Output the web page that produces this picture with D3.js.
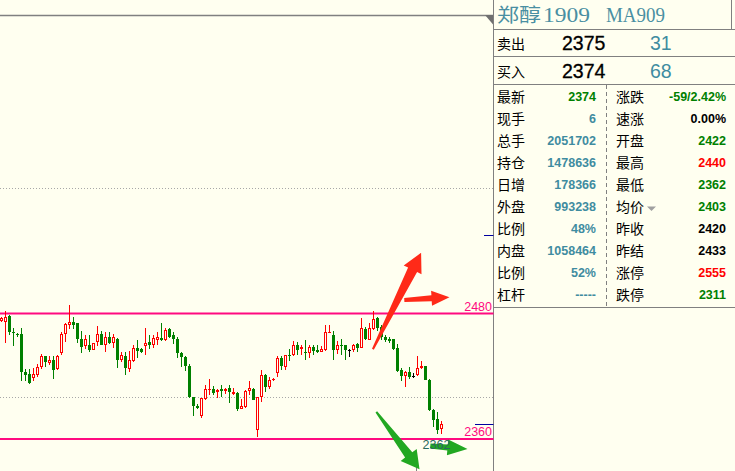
<!DOCTYPE html>
<html><head><meta charset="utf-8">
<script src="https://cdn.jsdelivr.net/npm/d3@7/dist/d3.min.js"></script>
<style>html,body{margin:0;padding:0;background:#FFFFF0;}svg{display:block;}</style>
</head><body>
<svg id="c" width="735" height="471"></svg>
<script>
// ---------- data ----------
const opens  = [2473,2472,2478,2462,2460,2460,2424,2422,2418,2421,2429,2439,2433,2436,2427,2442,2460,2469,2472,2471,2456,2449,2450,2445,2453,2460,2450,2458,2452,2456,2436,2439,2427,2435,2447,2446,2449,2453,2450,2455,2457,2455,2465,2459,2456,2442,2438,2430,2400,2392,2382,2398,2407,2408,2405,2408,2406,2409,2403,2404,2389,2391,2406,2408,2369,2400,2421,2410,2416,2423,2437,2429,2440,2440,2450,2446,2443,2442,2448,2445,2443,2445,2461,2459,2445,2450,2450,2445,2445,2451,2447,2465,2455,2465,2476,2467,2458,2456,2456,2447,2426,2420,2424,2420,2421,2428,2430,2416,2388,2379,2370];
const highs  = [2477,2482,2479,2466,2461,2466,2427,2427,2428,2432,2441,2439,2439,2439,2440,2462,2471,2488,2477,2471,2463,2459,2459,2452,2468,2463,2462,2462,2460,2457,2443,2443,2444,2450,2455,2447,2466,2459,2459,2462,2471,2466,2466,2462,2458,2443,2439,2432,2400,2393,2399,2412,2417,2411,2408,2412,2409,2412,2409,2405,2398,2407,2415,2409,2400,2426,2422,2419,2418,2439,2439,2440,2446,2454,2453,2450,2455,2450,2450,2450,2449,2469,2469,2463,2454,2456,2450,2446,2451,2452,2476,2467,2471,2482,2477,2469,2459,2458,2456,2451,2428,2425,2429,2423,2439,2435,2430,2417,2389,2386,2377];
const lows   = [2472,2452,2459,2449,2458,2415,2415,2413,2415,2419,2427,2429,2431,2417,2426,2440,2453,2465,2465,2452,2442,2446,2443,2445,2449,2450,2443,2451,2447,2428,2434,2421,2424,2434,2437,2442,2440,2446,2447,2450,2454,2454,2457,2451,2437,2429,2425,2399,2382,2389,2380,2397,2402,2402,2399,2400,2403,2394,2402,2387,2389,2390,2402,2397,2362,2395,2405,2408,2415,2419,2426,2426,2435,2439,2440,2440,2436,2437,2440,2442,2443,2444,2461,2436,2441,2440,2436,2438,2443,2443,2447,2455,2455,2464,2463,2455,2453,2452,2445,2424,2415,2410,2417,2418,2420,2427,2416,2387,2371,2365,2365];
const closes = [2476,2477,2462,2461,2459,2424,2421,2414,2422,2429,2439,2434,2436,2426,2439,2460,2470,2472,2469,2456,2448,2456,2445,2452,2460,2450,2458,2452,2458,2436,2440,2428,2436,2447,2444,2443,2452,2450,2457,2458,2455,2464,2458,2456,2442,2438,2430,2400,2392,2390,2399,2408,2408,2404,2407,2406,2408,2405,2405,2389,2392,2406,2409,2397,2400,2421,2410,2416,2417,2437,2430,2440,2439,2450,2445,2448,2442,2448,2444,2443,2446,2462,2462,2445,2450,2449,2445,2445,2450,2447,2466,2456,2466,2475,2466,2458,2455,2454,2446,2425,2420,2424,2419,2420,2428,2430,2416,2388,2378,2369,2374];

const levelLines  = [2480, 2360];          // pink support / resistance
const gridPrices  = [2400, 2600];          // dotted grid
const markPrices  = [2555, 2374];          // blue ticks: limit-up, last
const lowMark     = {index: 109, value: 2362};

const titleName = "郑醇", titleCode = "1909", titleSym = "MA909";
const quoteLabels = ["卖出", "买入"];
const quotePrices = ["2375", "2374"];
const quoteVols   = ["31", "68"];

const leftLabels  = ["最新","现手","总手","持仓","日增","外盘","比例","内盘","比例","杠杆"];
const leftValues  = ["2374","6","2051702","1478636","178366","993238","48%","1058464","52%","-----"];
const rightLabels = ["涨跌","速涨","开盘","最高","最低","均价","昨收","昨结","涨停","跌停"];
const rightValues = ["-59/2.42%","0.00%","2422","2440","2362","2403","2420","2433","2555","2311"];
const settlePrice = 2433;

// arrows in (candle index, price) space
const arrows = [
  {from:[92.85,2445.8], to:[104.9,2538], kind:"up"},
  {from:[100.7,2493.0], to:[112.0,2495.5], kind:"up2"},
  {from:[93.7,2386.0],  to:[104.5,2331.0], kind:"dn"},
  {from:[107.2,2353.3], to:[116.5,2350.5], kind:"dn2"}
];

// ---------- drawing ----------
const svg = d3.select("#c");
const BG = "#FFFFF0", GRAY = "#808080", TEAL = "#3F8CA0";
const RED = "#FF0000", GREEN = "#008000", PINK = "#FF0A80";
const chartRight = 493.5;

svg.append("rect").attr("width",735).attr("height",471).attr("fill",BG);

const x = d3.scaleLinear().domain([0, opens.length-1]).range([1.5, 1.5 + 4*(opens.length-1)]);
const y = d3.scaleLinear().domain([2360, 2480]).range([439, 313.5]);

const g = svg.append("g");

// dotted grid
g.selectAll(".grid").data(gridPrices).enter().append("line")
  .attr("x1",0).attr("x2",chartRight)
  .attr("y1",d=>Math.round(y(d))+0.5).attr("y2",d=>Math.round(y(d))+0.5)
  .attr("stroke","#A8A8A8").attr("stroke-dasharray","1,2");

// top line & triangle
g.append("line").attr("x1",0).attr("x2",chartRight).attr("y1",15.5).attr("y2",15.5)
  .attr("stroke",GRAY).attr("stroke-width",1.5);
g.append("path").attr("d",`M485,15 L${chartRight},15 L${chartRight},25 Z`).attr("fill","#707070");

// vertical separator
g.append("line").attr("x1",chartRight).attr("x2",chartRight).attr("y1",0).attr("y2",471)
  .attr("stroke",GRAY);

// pink level lines
g.selectAll(".lvl").data(levelLines).enter().append("line")
  .attr("x1",0).attr("x2",chartRight)
  .attr("y1",d=>y(d)).attr("y2",d=>y(d))
  .attr("stroke",PINK).attr("stroke-width",2);
g.selectAll(".lvlt").data(levelLines).enter().append("text")
  .attr("x",492).attr("y",d=>y(d)-3).attr("text-anchor","end")
  .attr("font-family","Liberation Sans, Arial, sans-serif").attr("font-size",12.5)
  .attr("fill",PINK).text(d=>d);

// blue marker ticks
g.selectAll(".mk").data(markPrices).enter().append("line")
  .attr("x1",(d,i)=> i===0 ? 484 : 475).attr("x2",chartRight)
  .attr("y1",d=>Math.round(y(d))+0.5).attr("y2",d=>Math.round(y(d))+0.5)
  .attr("stroke","#0000A0");

// bottom time tick
g.append("line").attr("x1",Math.round(x(103.6))+0.5).attr("x2",Math.round(x(103.6))+0.5)
  .attr("y1",463).attr("y2",471).attr("stroke",GRAY);

// candles
const cg = g.append("g").attr("shape-rendering","crispEdges");
opens.forEach((o,i)=>{
  const h = highs[i], l = lows[i], c = closes[i];
  const cx = Math.round(x(i)-0.5)+0.5;
  const yo = Math.round(y(o)), yc = Math.round(y(c)), yh = Math.round(y(h)), yl = Math.round(y(l));
  if (c > o) {
    const top = yc, bot = yo;
    if (yh < top) cg.append("line").attr("x1",cx).attr("x2",cx).attr("y1",yh).attr("y2",top).attr("stroke",RED);
    if (yl > bot) cg.append("line").attr("x1",cx).attr("x2",cx).attr("y1",bot).attr("y2",yl).attr("stroke",RED);
    if (bot - top >= 2) {
      cg.append("rect").attr("x",cx-1).attr("y",top+0.5).attr("width",2).attr("height",bot-top-1)
        .attr("fill",BG).attr("stroke",RED);
    } else {
      cg.append("rect").attr("x",cx-1.5).attr("y",top).attr("width",3).attr("height",Math.max(1,bot-top)).attr("fill",RED);
    }
  } else if (c < o) {
    cg.append("line").attr("x1",cx).attr("x2",cx).attr("y1",yh).attr("y2",yl).attr("stroke",GREEN);
    cg.append("rect").attr("x",cx-1.5).attr("y",yo).attr("width",3).attr("height",Math.max(1,yc-yo)).attr("fill",GREEN);
  } else {
    cg.append("line").attr("x1",cx).attr("x2",cx).attr("y1",yh).attr("y2",yl).attr("stroke","#000");
    cg.append("rect").attr("x",cx-1.5).attr("y",yo).attr("width",3).attr("height",1).attr("fill","#000");
  }
});

// arrows
const arrowStyle = {
  up:  {fill:"#FF2A18", wt:1,   ws:5,   wh:10, hl:19},
  up2: {fill:"#FF2A18", wt:2,   ws:3,   wh:7.5,hl:18},
  dn:  {fill:"#22A822", wt:1,   ws:4.5, wh:10, hl:18},
  dn2: {fill:"#22A822", wt:2.5, ws:3,   wh:8,  hl:20}
};
arrows.forEach(a=>{
  const s = arrowStyle[a.kind];
  const T = [x(a.from[0]), y(a.from[1])], P = [x(a.to[0]), y(a.to[1])];
  const dx = P[0]-T[0], dy = P[1]-T[1], len = Math.hypot(dx,dy);
  const u = [dx/len, dy/len], n = [-u[1], u[0]];
  const B = [P[0]-u[0]*s.hl, P[1]-u[1]*s.hl];
  const pt = (p,k)=>[p[0]+n[0]*k, p[1]+n[1]*k];
  const pts = [pt(T,s.wt), pt(B,s.ws), pt(B,s.wh), P, pt(B,-s.wh), pt(B,-s.ws), pt(T,-s.wt)];
  g.append("path").attr("d","M"+pts.map(p=>p[0].toFixed(1)+","+p[1].toFixed(1)).join("L")+"Z")
    .attr("fill",s.fill);
});

// low label (drawn above arrows)
g.append("text").attr("x",x(lowMark.index)-1).attr("y",y(lowMark.value)+12)
  .attr("text-anchor","middle").attr("font-family","Liberation Sans, Arial, sans-serif")
  .attr("font-size",12.5).attr("fill","#2A6A5E").text(lowMark.value);

// ---------- right panel ----------
const p = svg.append("g");
const PL = 494;
[29.5, 56.5, 84.5, 307.5].forEach(v=>{
  p.append("line").attr("x1",PL).attr("x2",735).attr("y1",v).attr("y2",v).attr("stroke",GRAY);
});
p.append("line").attr("x1",731.5).attr("x2",731.5).attr("y1",0).attr("y2",29).attr("stroke",GRAY);
p.append("line").attr("x1",606.5).attr("x2",606.5).attr("y1",85).attr("y2",307)
  .attr("stroke",GRAY).attr("stroke-dasharray","4,3");

// title
p.append("text").attr("x",497).attr("y",21.5).attr("font-family","Noto Sans CJK SC")
  .attr("font-size",19).attr("fill","#4A8FA2")
  .attr("textLength",44).attr("lengthAdjust","spacingAndGlyphs").text(titleName);
p.append("text").attr("x",543).attr("y",22).attr("font-family","Liberation Serif, serif")
  .attr("font-size",22).attr("fill","#4A8FA2").attr("textLength",47).attr("lengthAdjust","spacingAndGlyphs").text(titleCode);
p.append("text").attr("x",606).attr("y",22).attr("font-family","Liberation Serif, serif")
  .attr("font-size",22).attr("fill","#4A8FA2").attr("textLength",59).attr("lengthAdjust","spacingAndGlyphs").text(titleSym);

// quotes
quoteLabels.forEach((lab,i)=>{
  const by = 49 + 28*i;
  p.append("text").attr("x",497).attr("y",by).attr("font-family","Noto Sans CJK SC")
    .attr("font-size",14).attr("fill","#000").text(lab);
  p.append("text").attr("x",562).attr("y",by+1).attr("font-family","Liberation Sans, Arial")
    .attr("font-size",19.5).attr("fill","#000").attr("stroke","#000").attr("stroke-width",0.3).text(quotePrices[i]);
  p.append("text").attr("x",650).attr("y",by+1).attr("font-family","Liberation Sans, Arial")
    .attr("font-size",19.5).attr("fill",TEAL).text(quoteVols[i]);
});

function valueColor(v){
  if (v.startsWith("-")) return GREEN;
  const n = parseFloat(v);
  if (v.indexOf("%")>=0) return "#000";
  if (n > settlePrice) return RED;
  if (n < settlePrice) return GREEN;
  return "#000";
}
leftLabels.forEach((lab,i)=>{
  const cy = 96.5 + 22*i;
  p.append("text").attr("x",497).attr("y",cy+5).attr("font-family","Noto Sans CJK SC")
    .attr("font-size",14).attr("fill","#000").text(lab);
  p.append("text").attr("x",596).attr("y",cy+4.5).attr("text-anchor","end")
    .attr("font-family","Liberation Sans, Arial").attr("font-weight","bold").attr("font-size",12.5)
    .attr("fill", i===0 ? valueColor(leftValues[i]) : TEAL).text(leftValues[i]);
});
rightLabels.forEach((lab,i)=>{
  const cy = 96.5 + 22*i;
  p.append("text").attr("x",616).attr("y",cy+5).attr("font-family","Noto Sans CJK SC")
    .attr("font-size",14).attr("fill","#000").text(lab);
  const v = rightValues[i];
  let col = valueColor(v);
  if (lab === "昨收" || lab === "昨结") col = "#000";
  p.append("text").attr("x",726).attr("y",cy+4.5).attr("text-anchor","end")
    .attr("font-family","Liberation Sans, Arial").attr("font-weight","bold").attr("font-size",12.5)
    .attr("fill",col).text(v);
  if (lab === "均价") {
    p.append("path").attr("d",`M647,${cy} L656,${cy} L651.5,${cy+4.5} Z`).attr("fill","#A0A0A0");
  }
});
</script>
</body></html>
